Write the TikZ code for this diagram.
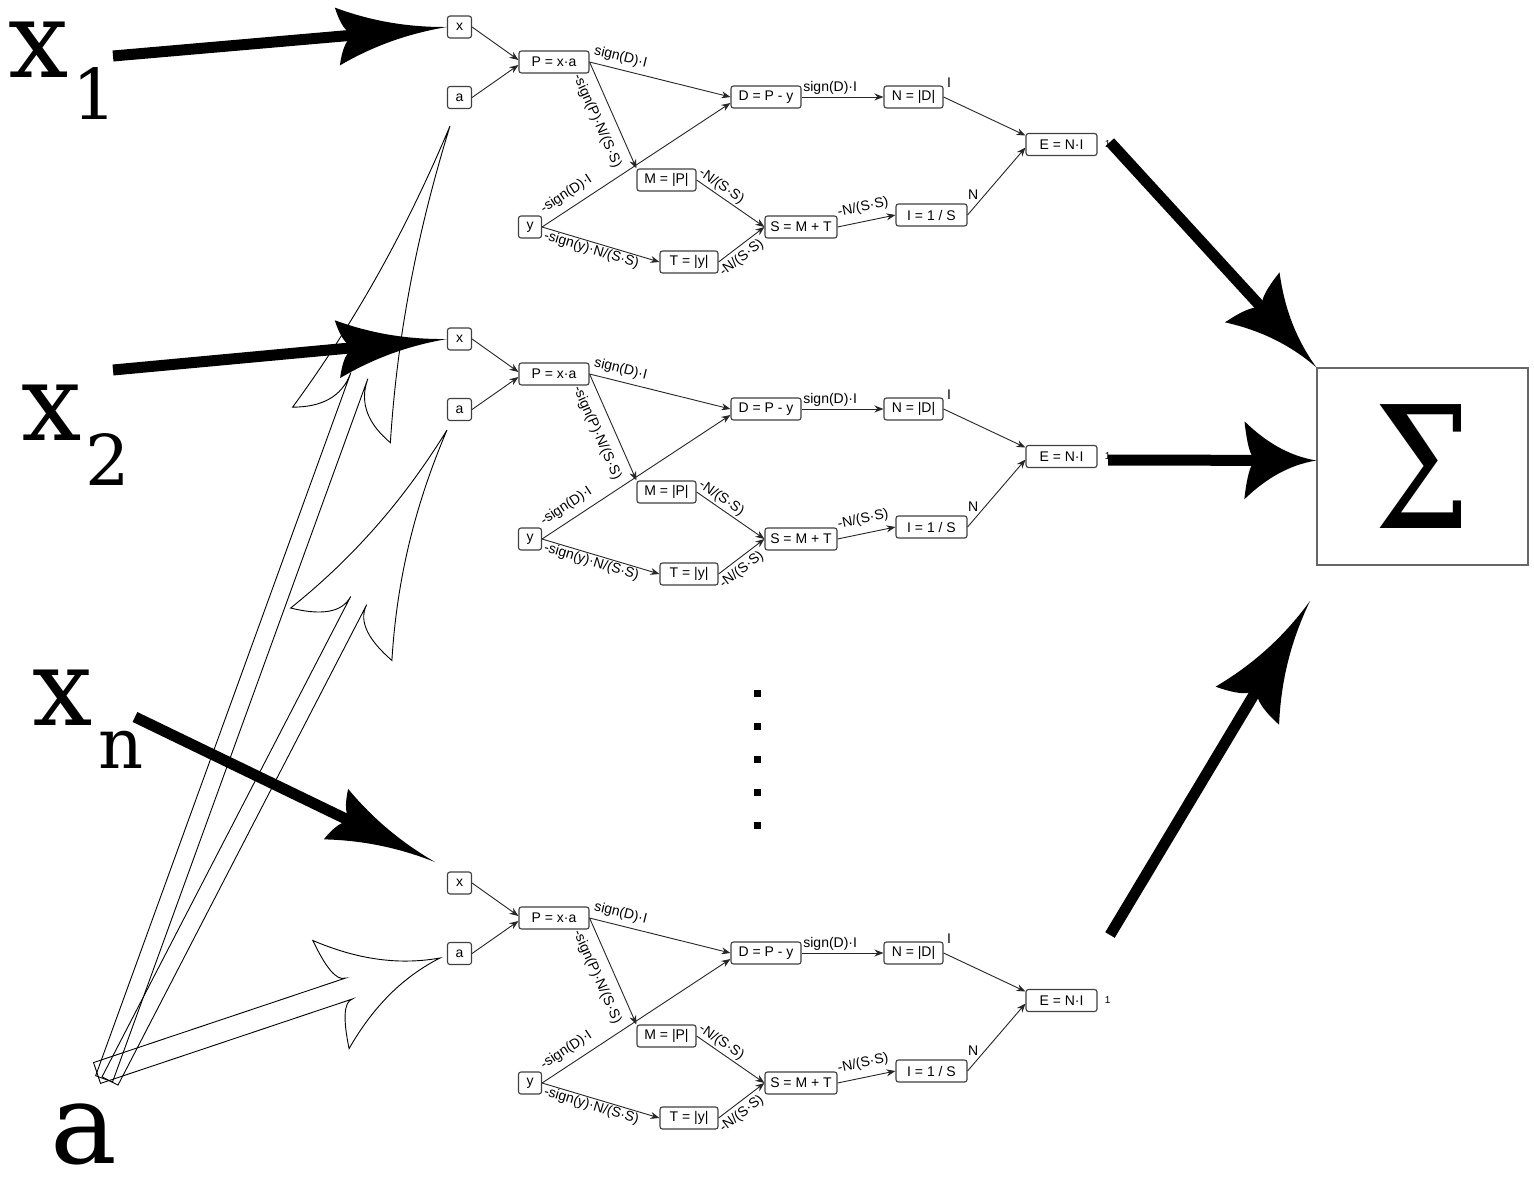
\documentclass[tikz,border=0pt]{standalone}
\usepackage{fontspec}
\usepackage{graphicx}
\usetikzlibrary{arrows.meta}
\newfontfamily\graphfont{Liberation Sans}
\newfontfamily\bigserif{DejaVu Serif}

% Filled arrow head with concave flanks and swept-back barbs
\pgfdeclarearrow{
  name = Swoosh,
  parameters = {\the\pgfarrowlength,\the\pgfarrowwidth},
  setup code = {
    \pgfarrowssettipend{0pt}
    \pgfarrowssetlineend{-.78\pgfarrowlength}
    \pgfarrowssetbackend{-\pgfarrowlength}
    \pgfarrowshullpoint{0pt}{0pt}
    \pgfarrowsupperhullpoint{-\pgfarrowlength}{.5\pgfarrowwidth}
    \pgfarrowssavethe\pgfarrowlength
    \pgfarrowssavethe\pgfarrowwidth
  },
  drawing code = {
    \pgfpathmoveto{\pgfpointorigin}
    \pgfpathcurveto{\pgfpoint{-.4\pgfarrowlength}{.06\pgfarrowwidth}}{\pgfpoint{-.72\pgfarrowlength}{.25\pgfarrowwidth}}{\pgfpoint{-\pgfarrowlength}{.5\pgfarrowwidth}}
    \pgfpathcurveto{\pgfpoint{-.97\pgfarrowlength}{.25\pgfarrowwidth}}{\pgfpoint{-.92\pgfarrowlength}{0pt}}{\pgfpoint{-.82\pgfarrowlength}{0pt}}
    \pgfpathcurveto{\pgfpoint{-.92\pgfarrowlength}{0pt}}{\pgfpoint{-.97\pgfarrowlength}{-.25\pgfarrowwidth}}{\pgfpoint{-\pgfarrowlength}{-.5\pgfarrowwidth}}
    \pgfpathcurveto{\pgfpoint{-.72\pgfarrowlength}{-.25\pgfarrowwidth}}{\pgfpoint{-.4\pgfarrowlength}{-.06\pgfarrowwidth}}{\pgfpointorigin}
    \pgfpathclose
    \pgfusepathqfill
  },
  defaults = {length = 100pt, width = 60pt}
}

\newcommand\gfont{\graphfont\fontsize{14}{15}\selectfont}
\newcommand\subsz{\fontsize{70}{70}\selectfont}

% Outlined arrow: tail (#1,#2), tip (#3,#4), head length #5,
% head half-width #6, shaft half-width #7
\newcommand\hollowarrow[7]{%
  \pgfmathsetmacro\hwang{atan2((#2)-(#4),(#3)-(#1))}%
  \pgfmathsetmacro\hwlen{veclen((#3)-(#1),(#4)-(#2))}%
  \begin{scope}[shift={(#3,#4)},rotate=\hwang,x=1pt,y=1pt]
    \draw[hollow] (0,0)
      .. controls (-0.4*#5,0.12*#6) and (-0.72*#5,0.5*#6) .. (-#5,#6)
      .. controls (-0.97*#5,0.5*#6) and (-0.92*#5,#7) .. (-0.835*#5,#7)
      -- (-\hwlen,#7) -- (-\hwlen,-#7) -- (-0.835*#5,-#7)
      .. controls (-0.92*#5,-#7) and (-0.97*#5,-0.5*#6) .. (-#5,-#6)
      .. controls (-0.72*#5,-0.5*#6) and (-0.4*#5,-0.12*#6) .. (0,0) -- cycle;
  \end{scope}}

% One computation graph; #1 = name prefix, #2 = vertical offset
\newcommand\gblock[2]{%
\begin{scope}[shift={(0,#2)}]
  \node[gn, minimum width=24pt] (#1x) at (459.5,27) {x};
  \node[gn, minimum width=24pt] (#1a) at (459.5,97.5) {a};
  \node[gn, minimum width=70pt] (#1P) at (554,62) {P = x·a};
  \node[gn, minimum width=70pt] (#1D) at (766,97) {D = P - y};
  \node[gn, minimum width=59pt] (#1N) at (913.5,97) {N = |D|};
  \node[gn, minimum width=71pt] (#1E) at (1061.5,144.5) {E = N·I};
  \node[gn, minimum width=59pt] (#1M) at (666.5,180) {M = |P|};
  \node[gn, minimum width=23pt] (#1y) at (530,227) {y};
  \node[gn, minimum width=72pt] (#1S) at (801,227) {S = M + T};
  \node[gn, minimum width=71pt] (#1I) at (931.5,215) {I = 1 / S};
  \node[gn, minimum width=58pt] (#1T) at (689,262) {T = |y|};
  \draw[ge] (#1x.east) -- ([yshift=2pt]#1P.west);
  \draw[ge] (#1a.east) -- ([yshift=-3pt]#1P.west);
  \draw[ge] (#1P.east) -- (#1D.west) node[lbl,pos=.2,sloped,above=3pt]{sign(D)·I};
  \draw[ge] (#1P.east) -- (#1M.north west) node[lbl,pos=.49,sloped,below=8pt]{-sign(P)·N/(S·S)};
  \draw[ge] (#1y.east) -- ([yshift=-6pt]#1D.west) node[lbl,pos=.17,sloped,above=5pt]{-sign(D)·I};
  \draw[ge] (#1y.east) -- (#1T.west) node[lbl,pos=.44,sloped,below=-1pt]{-sign(y)·N/(S·S)};
  \draw[ge] (#1M.east) -- (#1S.west) node[lbl,pos=.29,sloped,above=0pt]{-N/(S·S)};
  \draw[ge] (#1T.east) -- (#1S.west) node[lbl,pos=.36,sloped,below=2pt]{-N/(S·S)};
  \draw[ge] (#1S.east) -- (#1I.west) node[lbl,pos=.49,sloped,above=5pt]{-N/(S·S)};
  \draw[ge] (#1D.east) -- (#1N.west) node[lbl,pos=.35,above=0pt]{sign(D)·I};
  \draw[ge] (#1N.east) -- ([yshift=9pt]#1E.west) node[lbl,at start,anchor=south west,xshift=1pt,yshift=7pt]{I};
  \draw[ge] (#1I.east) -- ([yshift=-3pt]#1E.west) node[lbl,at start,anchor=south west,xshift=-2pt,yshift=13pt]{N};
  \node[lbl, anchor=west, font=\graphfont\fontsize{10}{10}\selectfont] (#1one) at ([xshift=5pt]#1E.east) {1};
\end{scope}}

\tikzset{
  gn/.style={draw=black!75, rounded corners=2.5pt, line width=1.1pt,
    minimum height=22pt, inner sep=1pt, font=\gfont, text=black},
  ge/.style={draw=black!85, line width=0.9pt, -{Stealth[length=9pt,width=7pt]}},
  lbl/.style={font=\gfont, text=black, inner sep=2pt},
  bigarr/.style={line width=11pt, draw=black},
  hollow/.style={draw=black, line width=0.9pt},
  bigtxt/.style={inner sep=0pt, font=\bigserif\fontsize{107}{107}\selectfont},
}

\begin{document}
\begin{tikzpicture}[x=1pt,y=-1pt]
  \useasboundingbox (0,0) rectangle (1534,1180);
  \fill[white] (0,0) rectangle (1534,1180);

  % outlined arrows fanning out from the shared input a
  \hollowarrow{104}{1079}{450}{126}{318}{52}{9}
  \hollowarrow{110}{1081}{447}{430}{230}{57}{9}
  \hollowarrow{97}{1073}{440}{958}{115}{57}{11}

  % the three computation graphs
  \gblock{g1}{0}
  \gblock{g2}{312}
  \gblock{g3}{856}

  % vertical ellipsis between the graphs
  \foreach \yy in {693,726,759,792,825}
    \fill (753.5,\yy-3.5) rectangle ++(7,7);

  % input labels
  \node[bigtxt, anchor=base west] (lx1) at (8,78) {x\kern4pt\raisebox{-42pt}{\subsz 1}};
  \node[bigtxt, anchor=base west] (lx2) at (21,440) {x\kern4pt\raisebox{-45pt}{\subsz 2}};
  \node[bigtxt, anchor=base west] (lxn) at (32,725) {x\kern6pt\raisebox{-43pt}{\subsz n}};
  \node[bigtxt, anchor=base west, font=\bigserif\fontsize{112}{112}\selectfont] (la) at (50,1163) {a};

  % summation box
  \node[draw=black!60, line width=1.2pt, minimum width=211pt, minimum height=197pt,
        inner sep=0pt, font=\bigserif\fontsize{170}{170}\selectfont] (sig) at (1422.5,466.5)
        {\scalebox{0.8}[1]{Σ}};

  % thick input and output arrows
  \coordinate (t1) at (113,56);
  \coordinate (t2) at (113,370);
  \coordinate (tn) at (135,717);
  \coordinate (hn) at (435,862);
  \coordinate (o1) at (1110,142);
  \coordinate (o2) at (1108,460);
  \coordinate (o3) at (1110,935);
  \coordinate (h3) at (1310,601);
  \draw[bigarr, -{Swoosh[length=110pt,width=58pt]}] (t1) -- (g1x.west);
  \draw[bigarr, -{Swoosh[length=110pt,width=58pt]}] (t2) -- (g2x.west);
  \draw[bigarr, -{Swoosh[length=110pt,width=56pt]}] (tn) -- (hn);
  \draw[bigarr, -{Swoosh[length=95pt,width=74pt]}] (o1) -- (sig.north west);
  \draw[bigarr, -{Swoosh[length=72pt,width=78pt]}] (o2) -- ([yshift=6pt]sig.west);
  \draw[bigarr, -{Swoosh[length=122pt,width=74pt]}] (o3) -- (h3);
\end{tikzpicture}
\end{document}
